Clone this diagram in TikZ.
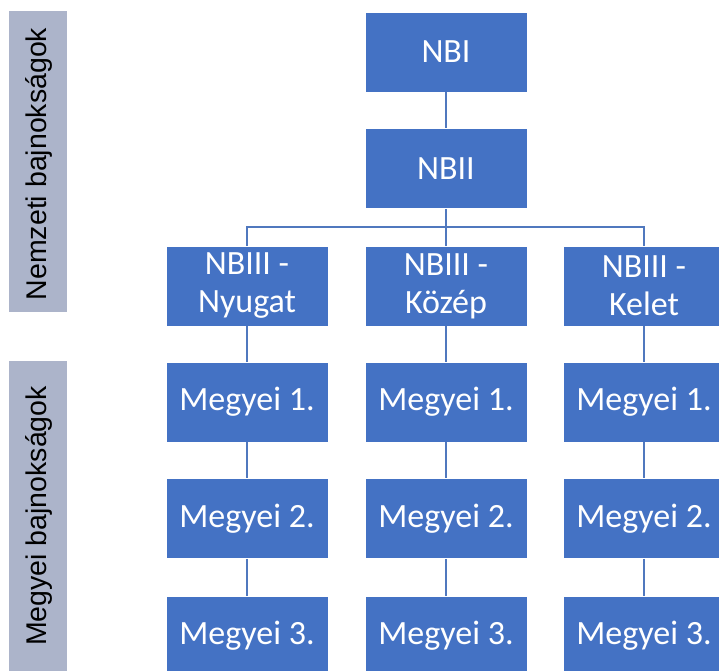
\documentclass[tikz,border=0pt]{standalone}
\usepackage{fontspec}
\setmainfont{Carlito}
\newfontfamily\sidefont{Liberation Sans}
\usetikzlibrary{positioning}

\definecolor{leaguebox}{RGB}{68,114,196}
\definecolor{sidebar}{RGB}{172,180,202}
\definecolor{linkline}{RGB}{80,120,190}

\tikzset{
  league/.style={rectangle, fill=leaguebox, draw=white, line width=0.6pt,
    minimum width=162pt, minimum height=80pt, inner sep=0pt,
    text=white, align=center, font=\fontsize{34}{38}\selectfont},
  sidetext/.style={rotate=90, font=\sidefont\fontsize{28.5}{30}\selectfont},
  link/.style={draw=linkline, line width=1.2pt}
}

\begin{document}
\begin{tikzpicture}[x=1pt, y=-1pt]
   \useasboundingbox (0,0) rectangle (719,670);
   \clip (0,0) rectangle (719,670);

   % side bars
   \fill[sidebar] (9,11) rectangle (67,312);
   \fill[sidebar] (9,361) rectangle (67,690);
   \node[sidetext] (nemzeti) at (39,164) {Nemzeti bajnokságok};
   \node[sidetext] (megyei) at (39,516) {Megyei bajnokságok};

   % national leagues
   \node [league] (nbi) at (446,52) {NBI};
   \node [league] (nbii) at (446,168.5) {NBII};
   \node [league] (nyugat) at (247,286) {NBIII -\\Nyugat};
   \node [league] (kozep) at (446,286) {NBIII -\\Közép};
   \node [league] (kelet) at (644,286) {NBIII -\\Kelet};

   % county leagues
   \node [league] (m1ny) at (247,402) {Megyei 1.};
   \node [league] (m1ko) at (446,402) {Megyei 1.};
   \node [league] (m1ke) at (644,402) {Megyei 1.};
   \node [league] (m2ny) at (247,518.5) {Megyei 2.};
   \node [league] (m2ko) at (446,518.5) {Megyei 2.};
   \node [league] (m2ke) at (644,518.5) {Megyei 2.};
   \node [league] (m3ny) at (247,636) {Megyei 3.};
   \node [league] (m3ko) at (446,636) {Megyei 3.};
   \node [league] (m3ke) at (644,636) {Megyei 3.};

   \coordinate (fork) at (446,227);

   \path[link] (nbi) edge (nbii)
               (nbii) edge (kozep)
               (nyugat) edge (m1ny)
               (kozep) edge (m1ko)
               (kelet) edge (m1ke)
               (m1ny) edge (m2ny)
               (m1ko) edge (m2ko)
               (m1ke) edge (m2ke)
               (m2ny) edge (m3ny)
               (m2ko) edge (m3ko)
               (m2ke) edge (m3ke);
   \draw[link] (nyugat.north) |- (fork) -| (kelet.north);

\end{tikzpicture}
\end{document}
